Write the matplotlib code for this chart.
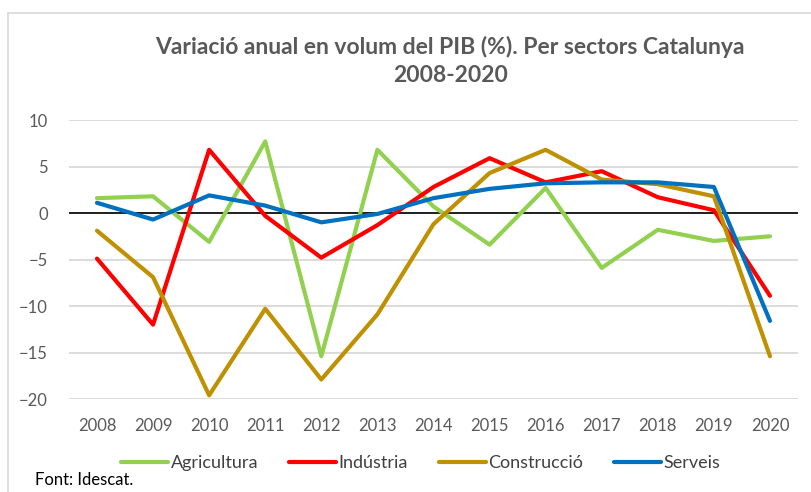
import matplotlib
matplotlib.use("Agg")
import matplotlib.pyplot as plt
from matplotlib.lines import Line2D

plt.rcParams['font.family'] = ['Lato', 'DejaVu Sans']

# dades (llegides del gràfic)
anys = ["2008", "2009", "2010", "2011", "2012", "2013", "2014",
        "2015", "2016", "2017", "2018", "2019", "2020"]
agricultura = [1.6, 1.8, -3.1, 7.7, -15.4, 6.8, 0.7, -3.4, 2.7, -5.9, -1.8, -3.0, -2.5]
industria = [-4.9, -12.0, 6.8, -0.3, -4.8, -1.3, 2.8, 5.9, 3.3, 4.5, 1.7, 0.3, -8.9]
construccio = [-1.9, -6.9, -19.6, -10.3, -17.9, -10.9, -1.2, 4.3, 6.8, 3.6, 3.1, 1.8, -15.4]
serveis = [1.1, -0.7, 1.9, 0.8, -1.0, -0.1, 1.6, 2.6, 3.2, 3.3, 3.3, 2.8, -11.6]

series = [
    ("Agricultura", agricultura, "#92d050"),
    ("Indústria", industria, "#ff0000"),
    ("Construcció", construccio, "#bf9000"),
    ("Serveis", serveis, "#0070c0"),
]

fig = plt.figure(figsize=(8.11, 4.92), dpi=100)
ax = fig.add_axes([0.085, 0.189, 0.899, 0.567])

x = range(len(anys))
for nom, vals, col in series:
    ax.plot(x, vals, color=col, lw=3, label=nom, solid_capstyle="round", zorder=3)

ax.axhline(0, color="black", lw=1.2, zorder=2)
ax.set_ylim(-20, 10)
ax.set_xlim(-0.5, len(anys) - 0.5)
ax.set_yticks(range(-20, 11, 5))
ax.set_xticks(list(x))
ax.set_xticklabels(anys)
ax.grid(axis="y", color="#d9d9d9", lw=1.3)
ax.set_axisbelow(True)
for s in ax.spines.values():
    s.set_visible(False)
ax.tick_params(length=0, labelsize=12, labelcolor="#595959")
ax.tick_params(axis="x", pad=14)
ax.tick_params(axis="y", pad=15)

fig.text(0.555, 0.876, "Variació anual en volum del PIB (%). Per sectors Catalunya\n2008-2020",
         ha="center", va="center", fontsize=16.5, fontweight="bold", color="#595959",
         linespacing=1.45)

fig.legend(loc="center", bbox_to_anchor=(0.519, 0.058), ncol=4, frameon=False,
           fontsize=13, handlelength=2.6, handletextpad=0.15, columnspacing=1.7,
           labelcolor="#404040")

fig.text(0.043, 0.014, "Font: Idescat.", fontsize=12, color="black")

# marc del gràfic
fig.add_artist(Line2D([8/811, 8/811], [0, 1 - 13/492], color="#d9d9d9", lw=1.2))
fig.add_artist(Line2D([8/811, 1], [1 - 13/492, 1 - 13/492], color="#d9d9d9", lw=1.2))

plt.savefig("out.png", dpi=100)
